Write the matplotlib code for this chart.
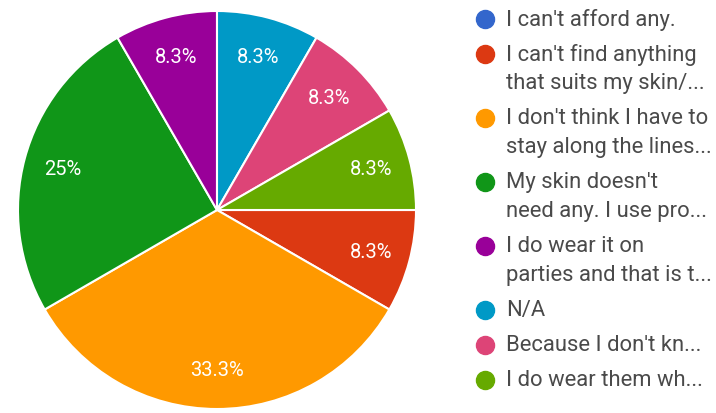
import matplotlib
matplotlib.use("Agg")
import matplotlib.pyplot as plt

plt.rcParams["font.family"] = ["Roboto", "DejaVu Sans"]

# survey answers, in legend order
answers = [
    "I can't afford any.",
    "I can't find anything\nthat suits my skin/...",
    "I don't think I have to\nstay along the lines...",
    "My skin doesn't\nneed any. I use pro...",
    "I do wear it on\nparties and that is t...",
    "N/A",
    "Because I don't kn...",
    "I do wear them wh...",
]
counts = [0, 1, 4, 3, 1, 1, 1, 1]
colors = ["#3366cc", "#dc3912", "#ff9900", "#109618",
          "#990099", "#0099c6", "#dd4477", "#66aa00"]


def pct_label(p):
    if p <= 0:
        return ""
    return f"{p:.1f}".rstrip("0").rstrip(".") + "%"


fig = plt.figure(figsize=(7.16, 4.14), dpi=100)
W, H = 716, 414
cx, cy, r = 217, 211, 200
ax = fig.add_axes([(cx - r) / W, (H - cy - r) / H, 2 * r / W, 2 * r / H])
wedges, _, autotexts = ax.pie(
    counts, colors=colors, startangle=0, counterclock=False,
    autopct=pct_label, pctdistance=0.8, radius=1,
    wedgeprops=dict(edgecolor="white", linewidth=1.5),
    textprops=dict(color="white", fontsize=14.5),
)
ax.set_xlim(-1.005, 1.005)
ax.set_ylim(-1.005, 1.005)
ax.set_aspect("equal")
ax.axis("off")

# legend drawn by hand in pixel coordinates
lg = fig.add_axes([0, 0, 1, 1])
lg.set_xlim(0, W)
lg.set_ylim(H, 0)
lg.axis("off")
y = 20
for label, color in zip(answers, colors):
    lines = label.split("\n")
    lg.plot(485, y, "o", ms=13, color=color, mec=color)
    for i, line in enumerate(lines):
        lg.text(506, y + i * 29, line, fontsize=15.8, color="#4a4a4a",
                va="center", ha="left")
    y += 29 * (len(lines) - 1) + 35

fig.savefig("out.png", dpi=100)
